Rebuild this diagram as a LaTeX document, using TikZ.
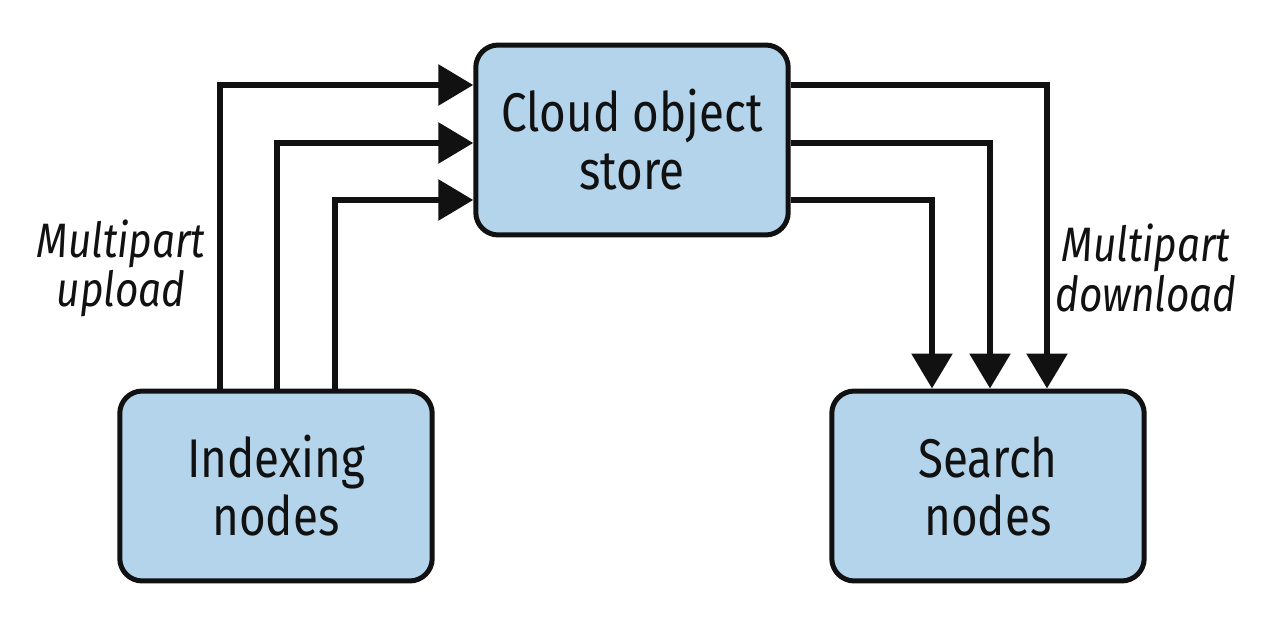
\documentclass[tikz,border=0pt]{standalone}
\usepackage{fontspec}
\setmainfont{Fira Sans}[FakeStretch=0.84]
\usetikzlibrary{arrows.meta,calc}
\definecolor{boxfill}{HTML}{B3D4EA}
\definecolor{ink}{HTML}{111111}
\tikzset{
  box/.style={draw=ink, fill=boxfill, line width=0.1cm, rounded corners=0.45cm,
    minimum width=6.25cm, minimum height=3.8cm, align=center, text=ink,
    font=\fontsize{31}{33}\selectfont},
  arr/.style={draw=ink, line width=0.12cm,
    -{Triangle[length=0.7cm,width=0.8cm]}},
  lbl/.style={align=center, text=ink, font=\fontsize{27.5}{28}\selectfont\itshape}
}
\begin{document}
\begin{tikzpicture}[x=0.02cm,y=-0.02cm]
\useasboundingbox (0,0) rectangle (1269,621);
\node[box] (cloud) at (632,140) {Cloud object\\store};
\node[box] (idx) at (276,486) {Indexing\\nodes};
\node[box] (srch) at (988,486) {Search\\nodes};
% uploads
\draw[arr] ($(idx.north)+(-56,0)$) |- ($(cloud.west)+(0,-55)$);
\draw[arr] ($(idx.north)+(1,0)$) |- ($(cloud.west)+(0,3)$);
\draw[arr] ($(idx.north)+(59,0)$) |- ($(cloud.west)+(0,60)$);
% downloads
\draw[arr] ($(cloud.east)+(0,-55)$) -| ($(srch.north)+(59,0)$);
\draw[arr] ($(cloud.east)+(0,3)$) -| ($(srch.north)+(2,0)$);
\draw[arr] ($(cloud.east)+(0,60)$) -| ($(srch.north)+(-56,0)$);
\node[lbl] (up) at (121,268) {Multipart\\upload};
\node[lbl] (down) at (1146,268) {Multipart\\download};
\end{tikzpicture}
\end{document}
